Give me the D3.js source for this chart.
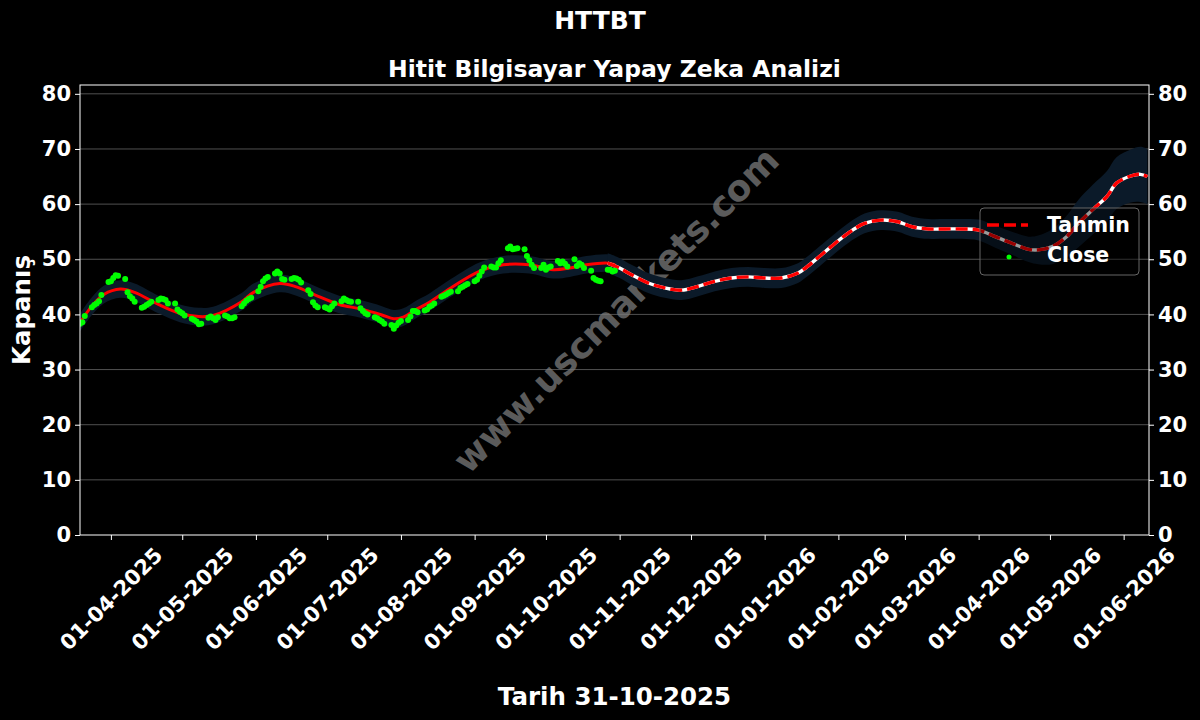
<!DOCTYPE html>
<html><head><meta charset="utf-8">
<script src="https://cdn.jsdelivr.net/npm/d3@7"></script>
<style>body{margin:0;background:#000}text{font-family:"DejaVu Sans",sans-serif;font-weight:bold;fill:#fff}</style>
</head><body>
<svg id="c" width="1200" height="720"></svg>
<script>
// ---------- data ----------
const closeStart = "2025-03-19";
const closeValues = [
38.3,38.6,39.7,
41.3,41.7,42.0,42.4,43.5,
45.9,46.0,46.6,47.1,47.0,
46.4,44.0,43.3,42.9,42.3,
41.2,41.4,41.7,42.0,42.3,
42.6,42.9,42.8,42.6,42.0,
42.0,40.9,40.5,40.2,39.8,
39.2,39.0,38.7,38.2,38.3,
39.4,39.6,39.3,39.0,39.5,
39.8,39.6,39.3,39.3,39.5,
41.5,42.0,42.5,42.8,43.0,
44.2,45.0,46.0,46.5,46.8,
47.4,47.8,47.4,46.4,46.3,
46.4,46.6,46.5,46.3,45.8,
44.4,43.7,42.2,41.6,41.3,
41.3,41.1,40.9,41.5,42.0,
42.4,42.9,42.6,42.4,42.3,
42.3,41.1,40.6,40.2,40.0,
39.5,39.3,39.0,38.7,38.3,
38.1,37.4,38.0,38.5,38.8,
39.0,39.6,40.6,40.6,40.4,
40.7,40.9,41.4,41.6,42.0,
43.2,43.4,43.6,43.9,44.1,
44.2,44.8,45.0,45.3,45.5,
46.0,46.3,47.0,47.8,48.5,
48.7,48.5,48.5,49.3,49.8,
52.0,52.3,51.8,51.9,52.0,
51.8,50.6,49.8,49.0,48.4,
48.4,49.0,48.1,48.5,48.7,
49.7,49.3,49.6,49.2,48.7,
50.0,48.8,49.3,49.0,48.4,
47.9,46.6,46.3,46.1,46.0,
48.1,48.1,47.8,47.9
];

const fitDates = ["2025-03-19","2025-03-24","2025-03-29","2025-04-05","2025-04-11","2025-04-21","2025-04-30","2025-05-08","2025-05-14","2025-05-26","2025-05-31","2025-06-11","2025-06-18","2025-06-26","2025-07-06","2025-07-15","2025-07-24","2025-07-29","2025-08-02","2025-08-07","2025-08-13","2025-08-22","2025-09-03","2025-09-13","2025-09-24","2025-10-04","2025-10-11","2025-10-18","2025-10-27","2025-10-30"];
const fitValues = [38.5,41.5,43.6,44.6,44.0,41.8,40.2,39.6,39.8,42.3,44.0,45.6,45.0,43.5,41.8,41.0,39.9,39.2,39.5,40.8,42.2,44.8,47.8,49.0,49.0,48.1,48.4,49.0,49.3,49.0];
const fitSpread = 1.6;

const fcDates = ["2025-10-27","2025-11-01","2025-11-06","2025-11-13","2025-11-20","2025-11-27","2025-12-04","2025-12-11","2025-12-18","2025-12-25","2026-01-01","2026-01-08","2026-01-15","2026-01-19","2026-01-24","2026-01-29","2026-02-05","2026-02-12","2026-02-19","2026-02-26","2026-03-04","2026-03-11","2026-03-18","2026-03-25","2026-04-01","2026-04-08","2026-04-15","2026-04-22","2026-04-26","2026-05-02","2026-05-08","2026-05-13","2026-05-19","2026-05-25","2026-05-29","2026-06-04","2026-06-08","2026-06-11"];
const fcValues = [49.3,48.4,47.2,45.7,44.8,44.4,45.1,46.0,46.6,46.8,46.6,46.6,47.5,48.7,50.5,52.3,54.7,56.5,57.1,56.8,55.9,55.5,55.5,55.5,55.3,54.1,52.9,51.8,51.7,52.3,54.1,56.5,59.0,61.4,63.8,65.1,65.4,65.0];
const fcSpread = [1.8,1.8,1.8,1.8,1.8,1.8,1.8,1.8,1.8,1.8,1.8,1.8,1.8,1.8,1.8,1.8,1.8,1.8,1.8,1.8,1.8,1.8,1.8,1.8,1.9,2.0,2.1,2.3,2.6,3.2,3.8,4.3,4.5,4.6,4.7,4.8,5.0,5.0];

const yTicks = [0,10,20,30,40,50,60,70,80];
const xTickDates = ["2025-04-01","2025-05-01","2025-06-01","2025-07-01","2025-08-01","2025-09-01","2025-10-01","2025-11-01","2025-12-01","2026-01-01","2026-02-01","2026-03-01","2026-04-01","2026-05-01","2026-06-01"];

const titleText = "HTTBT";
const subtitleText = "Hitit Bilgisayar Yapay Zeka Analizi";
const xLabelText = "Tarih 31-10-2025";
const yLabelText = "Kapanış";
const legendNames = ["Tahmin","Close"];
const watermarkText = "www.uscmarkets.com";

// ---------- build ----------
const parse = d3.timeParse("%Y-%m-%d");
const fmt = d3.timeFormat("%d-%m-%Y");

const closeDates = [];
{ let d = parse(closeStart);
  while (closeDates.length < closeValues.length) {
    const wd = d.getDay();
    if (wd !== 0 && wd !== 6) closeDates.push(new Date(d));
    d = d3.timeDay.offset(d, 1);
  } }
const closeData = closeDates.map((d,i)=>({d, v: closeValues[i]}));
const fitData = fitDates.map((s,i)=>({d: parse(s), v: fitValues[i], h: fitSpread}));
const fcData = fcDates.map((s,i)=>({d: parse(s), v: fcValues[i], h: fcSpread[i]}));

const L = 80, R = 1149, T = 85, B = 535;
const x = d3.scaleTime().domain([parse("2025-03-19"), new Date(2026,5,11,16)]).range([L, R]);
const y = d3.scaleLinear().domain([0, 81.6]).range([B, T]);

const svg = d3.select("#c");
svg.append("rect").attr("width",1200).attr("height",720).attr("fill","#000");

const defs = svg.append("defs");
defs.append("clipPath").attr("id","clip").append("rect").attr("x",L).attr("y",T).attr("width",R-L).attr("height",B-T);

// grid
svg.append("g").selectAll("line").data(yTicks.filter(t=>t>0)).join("line")
  .attr("x1",L).attr("x2",R).attr("y1",d=>y(d)).attr("y2",d=>y(d))
  .attr("stroke","#505050").attr("stroke-width",1);

const plot = svg.append("g").attr("clip-path","url(#clip)");

// watermark
plot.append("text").text(watermarkText)
  .attr("text-anchor","middle").attr("dominant-baseline","central")
  .attr("transform","translate(616,310) rotate(-45)")
  .style("font-size","36px").style("fill","#7a7a7a").style("opacity",0.75);

// bands
const area = d3.area().x(d=>x(d.d)).y0(d=>y(d.v-d.h)).y1(d=>y(d.v+d.h)).curve(d3.curveCatmullRom);
plot.append("path").datum(fitData).attr("d",area).attr("fill","#0b1a29");
plot.append("path").datum(fcData).attr("d",area).attr("fill","#0b1a29");

const line = d3.line().x(d=>x(d.d)).y(d=>y(d.v)).curve(d3.curveCatmullRom);
plot.append("path").datum(fitData).attr("d",line).attr("fill","none").attr("stroke","#ff0000").attr("stroke-width",3);
plot.append("path").datum(fcData).attr("d",line).attr("fill","none").attr("stroke","#ffffff").attr("stroke-width",3.4);
plot.append("path").datum(fcData).attr("d",line).attr("fill","none").attr("stroke","#ff0000").attr("stroke-width",3.4).attr("stroke-dasharray","12,5");

// close dots
plot.append("g").selectAll("circle").data(closeData).join("circle")
  .attr("cx",d=>x(d.d)).attr("cy",d=>y(d.v)).attr("r",3).attr("fill","#00ff00");

// frame
svg.append("rect").attr("x",L).attr("y",T).attr("width",R-L).attr("height",B-T)
  .attr("fill","none").attr("stroke","#fff").attr("stroke-width",1);

// axes
function styleAxis(g){ g.select(".domain").remove(); g.selectAll(".tick line").attr("stroke","#fff"); g.selectAll("text").style("font-size","21px").attr("fill","#fff"); }
svg.append("g").attr("transform",`translate(${L},0)`).call(d3.axisLeft(y).tickValues(yTicks).tickSize(5).tickPadding(4)).call(styleAxis);
svg.append("g").attr("transform",`translate(${R},0)`).call(d3.axisRight(y).tickValues(yTicks).tickSize(5).tickPadding(4)).call(styleAxis);
const xa = svg.append("g").attr("transform",`translate(0,${B})`)
  .call(d3.axisBottom(x).tickValues(xTickDates.map(parse)).tickFormat(fmt).tickSize(5)).call(styleAxis);
xa.selectAll(".tick text").attr("x",0).attr("y",0).attr("dy",null)
  .attr("text-anchor","middle").attr("dominant-baseline","central")
  .attr("transform","translate(0,64) rotate(-45)");

// titles
svg.append("text").text(titleText).attr("x",600).attr("y",29).attr("text-anchor","middle").style("font-size","25px");
svg.append("text").text(subtitleText).attr("x",(L+R)/2).attr("y",77).attr("text-anchor","middle").style("font-size","23.5px");
svg.append("text").text(xLabelText).attr("x",(L+R)/2).attr("y",705).attr("text-anchor","middle").style("font-size","24.5px");
svg.append("text").text(yLabelText).attr("transform",`translate(30,${(T+B)/2}) rotate(-90)`).attr("text-anchor","middle").style("font-size","24.5px");

// legend
const lg = svg.append("g");
lg.append("rect").attr("x",980).attr("y",208).attr("width",159).attr("height",67).attr("rx",4)
  .attr("fill","#000").attr("fill-opacity",0.4).attr("stroke","#666").attr("stroke-width",1);
lg.append("line").attr("x1",987).attr("x2",1028).attr("y1",225).attr("y2",225)
  .attr("stroke","#ff0000").attr("stroke-width",3.4).attr("stroke-dasharray","12,5");
lg.append("circle").attr("cx",1009).attr("cy",257).attr("r",2.5).attr("fill","#00ff00");
lg.append("text").text(legendNames[0]).attr("x",1047).attr("y",232).style("font-size","20.5px");
lg.append("text").text(legendNames[1]).attr("x",1047).attr("y",262).style("font-size","20.5px");
</script>
</body></html>
